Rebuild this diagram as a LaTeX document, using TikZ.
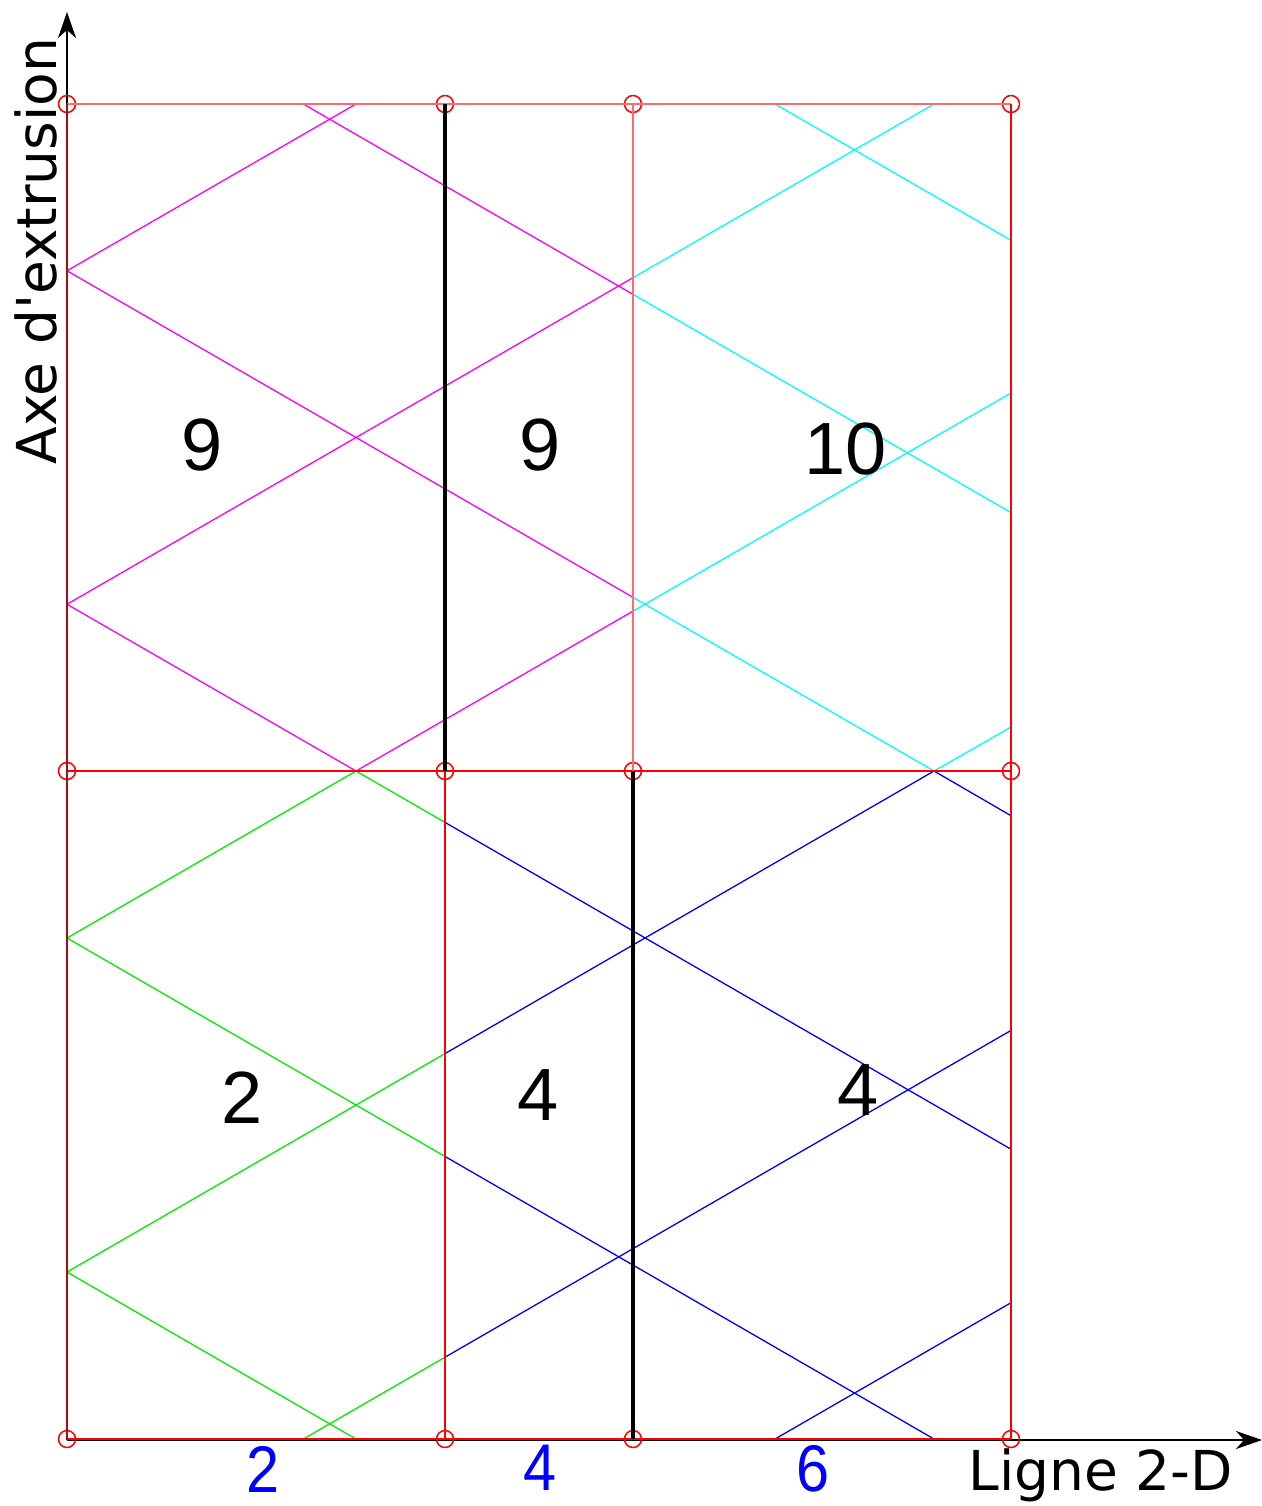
\documentclass[tikz,border=0pt]{standalone}
\usepackage{fontspec}
\usetikzlibrary{arrows.meta}
\newfontfamily\dvs{DejaVu Sans}
\newfontfamily\las{Liberation Sans}
\newfontfamily\lasn[FakeStretch=0.9]{Liberation Sans}
\definecolor{lred}{HTML}{FF6A6A}
\definecolor{dred}{HTML}{A01010}
\definecolor{rmag}{HTML}{FF00FF}
\definecolor{rcyan}{HTML}{00FFFF}
\definecolor{rgreen}{HTML}{00F000}
\definecolor{rblue}{HTML}{0000FF}
\newcommand\allrays{%
  \draw[ray] (T2) -- (L1) -- (N) -- (R1);
  \draw[ray] (T4) -- (L2) -- (M) -- (R2);
  \draw[ray] (R3) -- (M) -- (L3) -- (B4);
  \draw[ray] (R4) -- (N) -- (L4) -- (B2);
  \draw[ray] (T1) -- (R5);
  \draw[ray] (T3) -- (R6);
  \draw[ray] (B1) -- (R7);
  \draw[ray] (B3) -- (R8);
}
\begin{document}
\begin{tikzpicture}[x=0.5pt,y=-0.5pt,
  gridline/.style={red, line width=0.75pt},
  gridlight/.style={lred, line width=0.75pt},
  wall/.style={black, line width=2pt},
  ray/.style={line width=0.65pt},
  gpt/.style={circle, draw=red, line width=0.75pt, minimum size=8.5pt, inner sep=0pt},
  num/.style={font=\las\fontsize{37}{40}\selectfont, inner sep=0pt},
  tick/.style={text=rblue, font=\lasn\fontsize{33}{36}\selectfont, inner sep=0pt},
  axislabel/.style={font=\dvs\fontsize{27.5}{30}\selectfont, inner sep=0pt},
  axis/.style={black, line width=1.1pt, -{Stealth[length=13pt,width=9pt,inset=4pt]}}]
\useasboundingbox (0,0) rectangle (1262,1506);

% ray points
\coordinate (L1) at (67,270.75);
\coordinate (L2) at (67,604.25);
\coordinate (L3) at (67,938);
\coordinate (L4) at (67,1272);
\coordinate (M) at (356,771);
\coordinate (N) at (934,771);
\coordinate (T1) at (303.3,104);
\coordinate (T2) at (356,104);
\coordinate (T3) at (775,104);
\coordinate (T4) at (934,104);
\coordinate (B1) at (303.3,1439);
\coordinate (B2) at (356,1439);
\coordinate (B3) at (775,1439);
\coordinate (B4) at (934,1439);
\coordinate (R1) at (1011,815.7);
\coordinate (R2) at (1011,1149.2);
\coordinate (R3) at (1011,392.9);
\coordinate (R4) at (1011,727);
\coordinate (R5) at (1011,512.6);
\coordinate (R6) at (1011,240.3);
\coordinate (R7) at (1011,1030.4);
\coordinate (R8) at (1011,1302.7);

% coloured rays, clipped by region
\begin{scope}[rmag]
  \clip (67,104) rectangle (633,771);
  \allrays
\end{scope}
\begin{scope}[rcyan]
  \clip (633,104) rectangle (1011,771);
  \allrays
\end{scope}
\begin{scope}[rgreen]
  \clip (67,771) rectangle (445,1439);
  \allrays
\end{scope}
\begin{scope}[rblue]
  \clip (445,771) rectangle (1011,1439);
  \allrays
\end{scope}

% axes
\coordinate (o) at (67,1440);
\coordinate (ytip) at (67,12);
\coordinate (xtip) at (1262,1440);
\draw[axis] (o) -- (ytip);
\draw[axis] (o) -- (xtip);

% grid points
\node[gpt] (p00) at (67,104) {};
\node[gpt] (p01) at (445,104) {};
\node[gpt] (p02) at (633,104) {};
\node[gpt] (p03) at (1011,104) {};
\node[gpt] (p10) at (67,771) {};
\node[gpt] (p11) at (445,771) {};
\node[gpt] (p12) at (633,771) {};
\node[gpt] (p13) at (1011,771) {};
\node[gpt] (p20) at (67,1439) {};
\node[gpt] (p21) at (445,1439) {};
\node[gpt] (p22) at (633,1439) {};
\node[gpt] (p23) at (1011,1439) {};

% grid lines
\draw[gridlight] (p00.center) -- (p03.center);
\draw[gridline] (p10.center) -- (p13.center);
\draw[gridline, line width=1pt, yshift=0.4pt] (p20.center) -- (p23.center);
\draw[dred, line width=1.2pt] (p00.center) -- (p20.center);
\draw[gridline] (p03.center) -- (p23.center);
\draw[gridlight] (p02.center) -- (p12.center);
\draw[gridline] (p11.center) -- (p21.center);
\draw[wall] (p01.center) -- (p11.center);
\draw[wall] (p12.center) -- (p22.center);

% labels
\node[num] (n1) at (202,445) {9};
\node[num] (n2) at (540,445) {9};
\node[num] (n3) at (846,449) {10};
\node[num] (n4) at (242,1098) {2};
\node[num] (n5) at (538,1095) {4};
\node[num] (n6) at (858,1090) {4};

\node[tick] (t1) at (263,1469) {2};
\node[tick] (t2) at (540,1468) {4};
\node[tick] (t3) at (813,1469) {6};

\node[axislabel, anchor=base west] (xl) at (968,1490) {Ligne 2-D};
\node[axislabel, anchor=base west, rotate=90] (yl) at (56,465) {Axe d'extrusion};
\end{tikzpicture}
\end{document}
